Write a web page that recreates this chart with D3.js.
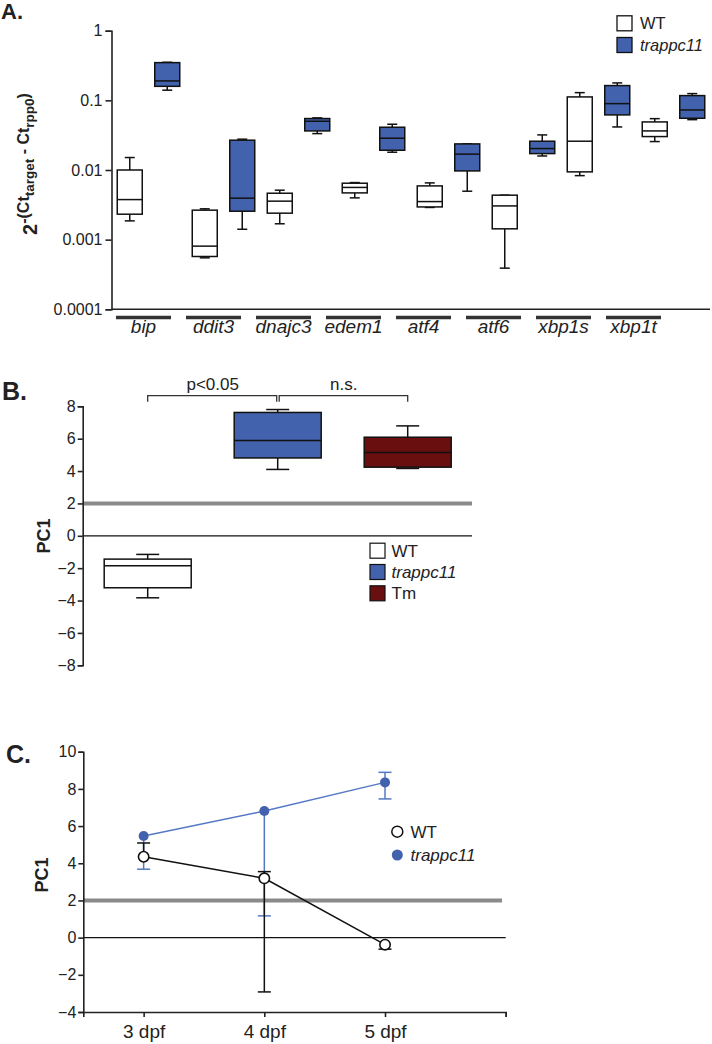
<!DOCTYPE html>
<html><head><meta charset="utf-8">
<script src="https://cdn.jsdelivr.net/npm/d3@7"></script>
<style>
html,body{margin:0;padding:0;background:#fff;}
svg text{font-family:"Liberation Sans",Arial,Helvetica,sans-serif;fill:#222;}
</style></head>
<body>
<svg id="c" width="712" height="1044"></svg>
<script>
// ---------- DATA ----------
// Panel A
const genes = ["bip","ddit3","dnajc3","edem1","atf4","atf6","xbp1s","xbp1t"];
const groupsA = ["WT","trappc11"];
const wtMin = [0.00186,0.000548,0.00169,0.00398,0.0029,0.00039,0.0083,0.0256];
const wtQ1  = [0.00232,0.000573,0.0024,0.00469,0.00295,0.00143,0.0094,0.0302];
const wtMed = [0.00376,0.000807,0.00357,0.00562,0.00352,0.00305,0.0259,0.0364];
const wtQ3  = [0.0100,0.00265,0.00464,0.00646,0.00591,0.00435,0.112,0.049];
const wtMax = [0.0151,0.00277,0.00513,0.0066,0.00653,0.00435,0.129,0.0546];
const trMin = [0.14,0.00141,0.0333,0.018,0.00496,0.0159,0.0415,0.0528];
const trQ1  = [0.159,0.00256,0.0364,0.0192,0.0097,0.0172,0.0618,0.0553];
const trMed = [0.19,0.00394,0.0501,0.0286,0.0169,0.0203,0.0897,0.0728];
const trQ3  = [0.348,0.0268,0.0548,0.0411,0.0237,0.0259,0.163,0.117];
const trMax = [0.352,0.0277,0.056,0.0454,0.0237,0.0319,0.178,0.125];
const ticksA = [0.0001,0.001,0.01,0.1,1];
const tickLabelsA = ["0.0001","0.001","0.01","0.1","1"];

// Panel B
const groupsB = ["WT","trappc11","Tm"];
const bMin = [-3.83,4.10,4.16];
const bQ1  = [-3.21,4.81,4.24];
const bMed = [-1.85,5.89,5.15];
const bQ3  = [-1.44,7.62,6.09];
const bMax = [-1.15,7.80,6.79];
const ticksB = [-8,-6,-4,-2,0,2,4,6,8];
const threshold = 2;

// Panel C
const days = [3,4,5];
const dayLabels = ["3 dpf","4 dpf","5 dpf"];
const wtPC1 = [4.35,3.19,-0.38];
const wtLo  = [4.35,-2.92,-0.62];
const wtHi  = [5.09,3.55,-0.38];
const trPC1 = [5.47,6.81,8.35];
const trLo  = [3.68,1.17,7.46];
const trHi  = [5.47,6.81,8.89];
const ticksC = [-4,-2,0,2,4,6,8,10];

// ---------- STYLE ----------
const BLUE = "#4262ad";
const LINEBLUE = "#5479c4";
const DARKRED = "#6a0f0f";
const GREY = "#8a8a8a";
const INK = "#222";
const TICKFS = 16;

const svg = d3.select("#c");

function styleAxis(g){
  g.selectAll("path.domain").attr("stroke",INK).attr("stroke-width",1.6);
  g.selectAll(".tick line").attr("stroke",INK).attr("stroke-width",1.6);
  g.selectAll(".tick text").attr("font-family",'"Liberation Sans",Arial,sans-serif').attr("font-size",TICKFS).attr("fill",INK);
}

// ======== PANEL A ========
{
  const y = d3.scaleLog().domain([1e-4,1]).range([309.3,30.7]);
  const xb = d3.scaleBand().domain(genes).range([111,711]);
  const xi = d3.scaleBand().domain(groupsA).range([0,xb.bandwidth()]);
  const xl = d3.scalePoint().domain(genes).range([143.5,633.5]);
  const g = svg.append("g");

  svg.append("text").attr("x",1).attr("y",19).attr("font-size",22).attr("font-weight","bold").text("A.");

  const ax = g.append("g").attr("transform","translate(111.5,0)")
    .call(d3.axisLeft(y).tickValues(ticksA).tickFormat((d,i)=>tickLabelsA[i]).tickSizeOuter(0).tickSize(6).tickPadding(3));
  styleAxis(ax);
  g.append("line").attr("x1",111.5).attr("x2",710).attr("y1",y(1e-4)).attr("y2",y(1e-4))
    .attr("stroke",INK).attr("stroke-width",1.6);

  // y label
  const yl = g.append("text").attr("transform","translate(37,164) rotate(-90)")
    .attr("text-anchor","middle").attr("font-weight","bold").attr("font-size",20);
  yl.append("tspan").text("2");
  yl.append("tspan").attr("font-size",16).attr("dy",-8).text("-(Ct");
  yl.append("tspan").attr("font-size",13.5).attr("dy",4.5).text("target");
  yl.append("tspan").attr("font-size",16).attr("dy",-4.5).text(" - Ct");
  yl.append("tspan").attr("font-size",13.5).attr("dy",4.5).text("rpp0");
  yl.append("tspan").attr("font-size",16).attr("dy",-4.5).text(")");

  // underlines & labels
  genes.forEach((gn,i)=>{
    g.append("line").attr("x1",xl(gn)-27.5).attr("x2",xl(gn)+27.5).attr("y1",317.5).attr("y2",317.5)
      .attr("stroke","#333").attr("stroke-width",3.4);
    g.append("text").attr("x",xl(gn)).attr("y",333).attr("text-anchor","middle")
      .attr("font-size",19).attr("font-style","italic").text(gn);
  });

  const series = [
    {grp:"WT",fill:"#fff",mn:wtMin,q1:wtQ1,md:wtMed,q3:wtQ3,mx:wtMax},
    {grp:"trappc11",fill:BLUE,mn:trMin,q1:trQ1,md:trMed,q3:trQ3,mx:trMax}
  ];
  const bw = 25, cw = 10;
  series.forEach(s=>{
    genes.forEach((gn,i)=>{
      const cx = xb(gn)+xi(s.grp)+xi.bandwidth()/2;
      const bx = g.append("g").attr("stroke","#111").attr("stroke-width",1.5);
      bx.append("line").attr("x1",cx).attr("x2",cx).attr("y1",y(s.mx[i])).attr("y2",y(s.q3[i]));
      bx.append("line").attr("x1",cx).attr("x2",cx).attr("y1",y(s.q1[i])).attr("y2",y(s.mn[i]));
      bx.append("line").attr("x1",cx-cw/2).attr("x2",cx+cw/2).attr("y1",y(s.mx[i])).attr("y2",y(s.mx[i]));
      bx.append("line").attr("x1",cx-cw/2).attr("x2",cx+cw/2).attr("y1",y(s.mn[i])).attr("y2",y(s.mn[i]));
      bx.append("rect").attr("x",cx-bw/2).attr("width",bw).attr("y",y(s.q3[i])).attr("height",y(s.q1[i])-y(s.q3[i]))
        .attr("fill",s.fill);
      bx.append("line").attr("x1",cx-bw/2).attr("x2",cx+bw/2).attr("y1",y(s.md[i])).attr("y2",y(s.md[i]));
    });
  });

  // legend
  const lg = g.append("g");
  [["WT","#fff",false],["trappc11",BLUE,true]].forEach((d,i)=>{
    const cy = 23.3 + i*21.7;
    lg.append("rect").attr("x",617).attr("y",cy-7.5).attr("width",15).attr("height",15).attr("fill",d[1]).attr("stroke","#111").attr("stroke-width",1.3);
    lg.append("text").attr("x",640).attr("y",cy+6).attr("font-size",16.5).attr("font-style",d[2]?"italic":"normal").text(d[0]);
  });
}

// ======== PANEL B ========
{
  const y = d3.scaleLinear().domain([-8,8]).range([665.3,406.3]);
  const x = d3.scaleBand().domain(groupsB).range([82.7,472.7]);
  const g = svg.append("g");
  svg.append("text").attr("x",2).attr("y",400).attr("font-size",25).attr("font-weight","bold").text("B.");

  g.append("line").attr("x1",82.7).attr("x2",472).attr("y1",y(threshold)).attr("y2",y(threshold)).attr("stroke",GREY).attr("stroke-width",4);
  g.append("line").attr("x1",82.7).attr("x2",472).attr("y1",y(0)).attr("y2",y(0)).attr("stroke","#111").attr("stroke-width",1.3);

  const ax = g.append("g").attr("transform","translate(82.7,0)")
    .call(d3.axisLeft(y).tickValues(ticksB).tickSizeOuter(0).tickSize(5).tickPadding(2));
  styleAxis(ax);

  g.append("text").attr("transform","translate(50,536) rotate(-90)").attr("text-anchor","middle")
    .attr("font-size",18).attr("font-weight","bold").text("PC1");

  const fills = [ "#fff", BLUE, DARKRED ];
  const bw = 87, cw = 23;
  groupsB.forEach((gr,i)=>{
    const cx = x(gr)+x.bandwidth()/2;
    const bx = g.append("g").attr("stroke","#111").attr("stroke-width",1.5);
    bx.append("line").attr("x1",cx).attr("x2",cx).attr("y1",y(bMax[i])).attr("y2",y(bQ3[i]));
    bx.append("line").attr("x1",cx).attr("x2",cx).attr("y1",y(bQ1[i])).attr("y2",y(bMin[i]));
    bx.append("line").attr("x1",cx-cw/2).attr("x2",cx+cw/2).attr("y1",y(bMax[i])).attr("y2",y(bMax[i]));
    bx.append("line").attr("x1",cx-cw/2).attr("x2",cx+cw/2).attr("y1",y(bMin[i])).attr("y2",y(bMin[i]));
    bx.append("rect").attr("x",cx-bw/2).attr("width",bw).attr("y",y(bQ3[i])).attr("height",y(bQ1[i])-y(bQ3[i])).attr("fill",fills[i]);
    bx.append("line").attr("x1",cx-bw/2).attr("x2",cx+bw/2).attr("y1",y(bMed[i])).attr("y2",y(bMed[i]));
  });

  // significance brackets
  const c0 = x("WT")+x.bandwidth()/2, c1 = x("trappc11")+x.bandwidth()/2, c2 = x("Tm")+x.bandwidth()/2;
  const by = 395.7, bt = 401.7;
  const br = g.append("g").attr("stroke","#333").attr("stroke-width",1.3).attr("fill","none");
  br.append("path").attr("d",`M${c0},${bt}V${by}H${c1-1}V${bt}`);
  br.append("path").attr("d",`M${c1+1.5},${bt}V${by}H${c2}V${bt}`);
  g.append("text").attr("x",(c0+c1)/2).attr("y",390).attr("text-anchor","middle").attr("font-size",17).text("p<0.05");
  g.append("text").attr("x",(c1+c2)/2+1).attr("y",390).attr("text-anchor","middle").attr("font-size",17).text("n.s.");

  // legend
  [["WT","#fff",false],["trappc11",BLUE,true],["Tm",DARKRED,false]].forEach((d,i)=>{
    const cy = 550.7 + i*21.3;
    g.append("rect").attr("x",370).attr("y",cy-7.5).attr("width",15).attr("height",15).attr("fill",d[1]).attr("stroke","#111").attr("stroke-width",1.2);
    g.append("text").attr("x",391.5).attr("y",cy+6).attr("font-size",17).attr("font-style",d[2]?"italic":"normal").text(d[0]);
  });
}

// ======== PANEL C ========
{
  const y = d3.scaleLinear().domain([-4,10]).range([1012,751.7]);
  const x = d3.scaleLinear().domain([2.5,6]).range([83.3,505.7]);
  const g = svg.append("g");
  svg.append("text").attr("x",6).attr("y",763).attr("font-size",25).attr("font-weight","bold").text("C.");

  g.append("line").attr("x1",83.3).attr("x2",502).attr("y1",y(threshold)).attr("y2",y(threshold)).attr("stroke",GREY).attr("stroke-width",4);
  g.append("line").attr("x1",83.3).attr("x2",505.7).attr("y1",y(0)).attr("y2",y(0)).attr("stroke","#111").attr("stroke-width",1.3);

  const ay = g.append("g").attr("transform","translate(83.3,0)")
    .call(d3.axisLeft(y).tickValues(ticksC).tickSizeOuter(0).tickSize(5).tickPadding(2));
  styleAxis(ay);
  const axx = g.append("g").attr("transform",`translate(0,${y(-4)})`)
    .call(d3.axisBottom(x).tickValues([3,4,5,6]).tickFormat(d=>{const i=days.indexOf(d);return i>=0?dayLabels[i]:"";}).tickSizeOuter(0).tickSize(5).tickPadding(6));
  styleAxis(axx);
  axx.selectAll(".tick text").attr("font-size",19).attr("dy",null).attr("y",26);

  g.append("text").attr("transform","translate(48,875) rotate(-90)").attr("text-anchor","middle")
    .attr("font-size",18).attr("font-weight","bold").text("PC1");

  const line = d3.line().x((d,i)=>x(days[i])).y(d=>y(d));
  const cw = 13;
  // trappc11
  const tg = g.append("g");
  days.forEach((d,i)=>{
    const eb = tg.append("g").attr("stroke",LINEBLUE).attr("stroke-width",1.5);
    eb.append("line").attr("x1",x(d)).attr("x2",x(d)).attr("y1",y(trLo[i])).attr("y2",y(trHi[i]));
    if (trLo[i] < trPC1[i]) eb.append("line").attr("x1",x(d)-cw/2).attr("x2",x(d)+cw/2).attr("y1",y(trLo[i])).attr("y2",y(trLo[i]));
    if (trHi[i] > trPC1[i]) eb.append("line").attr("x1",x(d)-cw/2).attr("x2",x(d)+cw/2).attr("y1",y(trHi[i])).attr("y2",y(trHi[i]));
  });
  tg.append("path").datum(trPC1).attr("d",line).attr("fill","none").attr("stroke",LINEBLUE).attr("stroke-width",1.5);
  tg.selectAll("circle").data(trPC1).join("circle").attr("cx",(d,i)=>x(days[i])).attr("cy",d=>y(d)).attr("r",5).attr("fill",BLUE);

  // WT
  const wg = g.append("g");
  days.forEach((d,i)=>{
    const eb = wg.append("g").attr("stroke","#111").attr("stroke-width",1.5);
    eb.append("line").attr("x1",x(d)).attr("x2",x(d)).attr("y1",y(wtLo[i])).attr("y2",y(wtHi[i]));
    if (wtLo[i] < wtPC1[i]) eb.append("line").attr("x1",x(d)-cw/2).attr("x2",x(d)+cw/2).attr("y1",y(wtLo[i])).attr("y2",y(wtLo[i]));
    if (wtHi[i] > wtPC1[i]) eb.append("line").attr("x1",x(d)-cw/2).attr("x2",x(d)+cw/2).attr("y1",y(wtHi[i])).attr("y2",y(wtHi[i]));
  });
  wg.append("path").datum(wtPC1).attr("d",line).attr("fill","none").attr("stroke","#111").attr("stroke-width",1.5);
  wg.selectAll("circle").data(wtPC1).join("circle").attr("cx",(d,i)=>x(days[i])).attr("cy",d=>y(d)).attr("r",5.2)
    .attr("fill","#fff").attr("stroke","#111").attr("stroke-width",1.6);

  // legend
  g.append("circle").attr("cx",397.3).attr("cy",831.7).attr("r",5.5).attr("fill","#fff").attr("stroke","#111").attr("stroke-width",1.5);
  g.append("text").attr("x",410.5).attr("y",837.5).attr("font-size",17).text("WT");
  g.append("circle").attr("cx",397.3).attr("cy",855).attr("r",5.5).attr("fill",BLUE);
  g.append("text").attr("x",410.5).attr("y",861).attr("font-size",17).attr("font-style","italic").text("trappc11");
}
</script>
</body></html>
